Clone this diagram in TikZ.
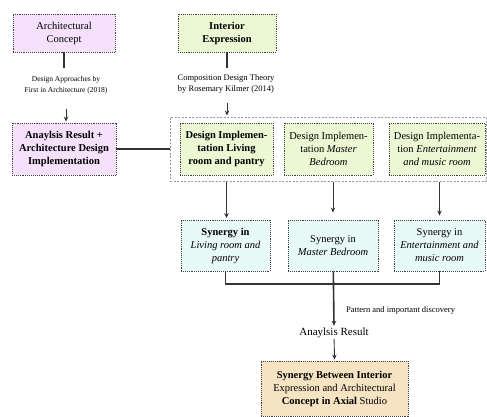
\documentclass[tikz,border=0pt]{standalone}
\usepackage{fontspec}
\setmainfont{Liberation Serif}
\usetikzlibrary{arrows.meta, positioning}
\definecolor{lilac}{HTML}{F5E1FB}
\definecolor{leaf}{HTML}{ECF8D4}
\definecolor{mint}{HTML}{E8FAF7}
\definecolor{sand}{HTML}{F5E3C2}
\tikzset{
  box/.style={
    draw=black!75, densely dotted, line width=0.9pt,
    align=center, inner sep=1pt,
    font=\fontsize{10.5}{13}\selectfont
  },
  note/.style={
    align=center, inner sep=1pt,
    font=\fontsize{7.5}{10.5}\selectfont
  },
  group/.style={
    draw=black!40, dash pattern=on 2pt off 1.5pt, line width=1pt
  },
  link/.style={line width=1.6pt, black!80},
  flow/.style={->, line width=0.9pt, black!80}
}

\begin{document}
\begin{tikzpicture}[x=1pt, y=-1pt, >={Stealth[length=5pt,width=4.5pt]}]
  \useasboundingbox (0,0) rectangle (487,416);

  % left column
  \node[box, fill=lilac, minimum width=102pt, minimum height=38pt] (arch) at (64,33) {Architectural\\Concept};
  \node[note] (approach) at (66,85) {Design Approaches by\\First in Architecture (2018)};
  \node[box, fill=lilac, minimum width=104pt, minimum height=52pt, font=\fontsize{10.5}{13}\selectfont\bfseries] (result) at (64,149) {Anaylsis Result +\\Architecture Design\\Implementation};

  % middle column
  \node[box, fill=leaf, minimum width=98pt, minimum height=38pt, font=\fontsize{10.5}{13}\selectfont\bfseries] (interior) at (227,33) {Interior\\Expression};
  \node[note, font=\fontsize{8.5}{11}\selectfont] (theory) at (226,84) {Composition Design Theory\\by Rosemary Kilmer (2014)};

  % implementation group
  \node[group, minimum width=316pt, minimum height=64pt] (impl) at (328,149) {};
  \node[box, fill=leaf, minimum width=93pt, minimum height=52pt, font=\fontsize{10.5}{13}\selectfont\bfseries] (impl1) at (226.5,149) {Design Implemen-\\tation Living\\room and pantry};
  \node[box, fill=leaf, minimum width=89pt, minimum height=52pt] (impl2) at (328.5,149) {Design Implemen-\\tation \textit{Master}\\\textit{Bedroom}};
  \node[box, fill=leaf, minimum width=96pt, minimum height=52pt] (impl3) at (437,149) {Design Implementa-\\tion \textit{Entertainment}\\\textit{and music room}};

  % synergy row
  \node[box, fill=mint, minimum width=89pt, minimum height=51pt] (syn1) at (225.5,245.5) {\textbf{Synergy in}\\\textit{Living room and}\\\textit{pantry}};
  \node[box, fill=mint, minimum width=90pt, minimum height=51pt] (syn2) at (333,245.5) {Synergy in\\\textit{Master Bedroom}};
  \node[box, fill=mint, minimum width=91pt, minimum height=51pt] (syn3) at (439.5,245.5) {Synergy in\\\textit{Entertainment and}\\\textit{music room}};

  \coordinate (join) at (333,284);
  \node[note, anchor=west, font=\fontsize{8.5}{11}\selectfont] (pattern) at (345,310) {Pattern and important discovery};
  \node[inner sep=1pt, font=\fontsize{11}{13}\selectfont] (final) at (334,333) {Anaylsis Result};
  \node[box, fill=sand, minimum width=147pt, minimum height=55pt] (studio) at (334.5,388.5) {\textbf{Synergy Between Interior}\\Expression and Architectural\\\textbf{Concept in Axial} Studio};

  % connectors
  \draw[link] (arch.south) -- ++(0,16);
  \draw[flow] (approach.south) ++(0,14) -- ([yshift=1pt]result.north -| approach.south);
  \draw[link] (interior.south) -- ++(0,16);
  \draw[flow] (interior.south) ++(0,51) -- ([yshift=1pt]impl.north -| interior.south);
  \draw[link] (result) -- (impl);

  \draw[flow] (impl.south -| impl1) -- ([yshift=1.5pt]syn1.north -| impl1);
  \draw[flow] (impl.south -| syn2) -- ([yshift=7pt]syn2.north);
  \draw[flow] (impl.south -| syn3) -- ([yshift=4pt]syn3.north);

  \draw[link, line width=1.3pt] (syn1) |- (join) -| (syn3);
  \draw[flow, line width=1.6pt] (syn2) -- ([yshift=1pt]final.north);
  \draw[flow] (final) -- ([yshift=1pt]studio.north);
\end{tikzpicture}
\end{document}
